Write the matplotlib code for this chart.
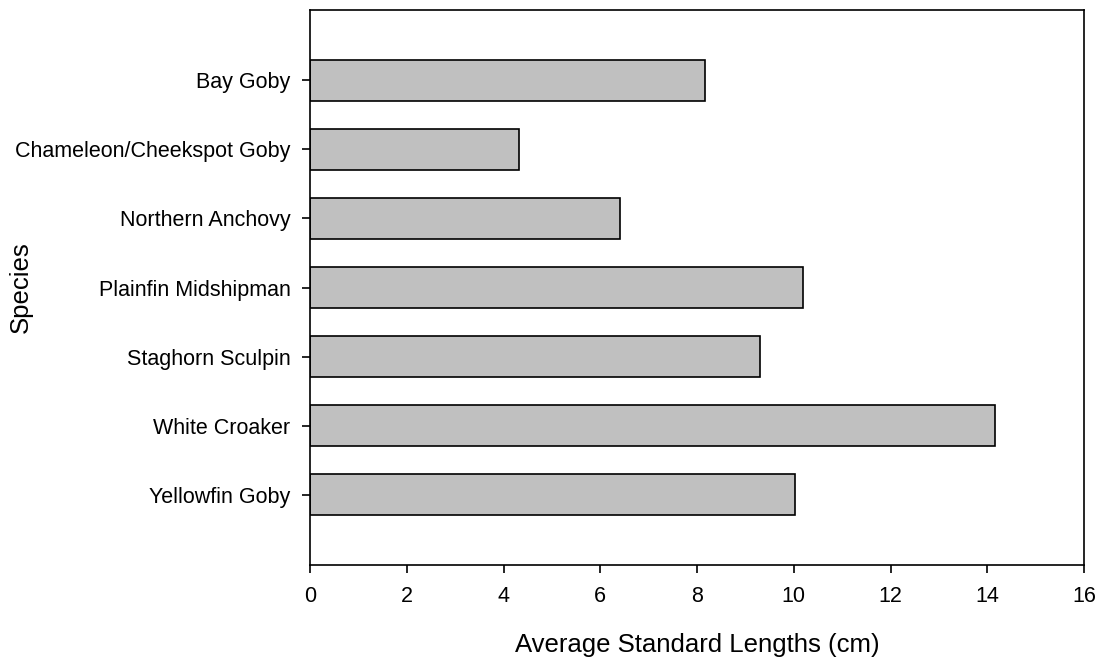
import numpy as np
import matplotlib.pyplot as plt

plt.rcParams['font.family'] = ['Liberation Sans', 'DejaVu Sans']

species = ['Bay Goby', 'Chameleon/Cheekspot Goby', 'Northern Anchovy',
           'Plainfin Midshipman', 'Staghorn Sculpin', 'White Croaker',
           'Yellowfin Goby']
avg_length = [8.17, 4.33, 6.40, 10.19, 9.31, 14.16, 10.03]

fig = plt.figure(figsize=(11.02, 6.61), dpi=100)
ax = fig.add_axes([0.2813, 0.1452, 0.7024, 0.8397])

ind = np.arange(len(species))
ax.barh(ind, avg_length, height=0.6, color='#c0c0c0',
        edgecolor='black', linewidth=1.2)

ax.set_yticks(ind)
ax.set_yticklabels(species, fontsize=15.5)
ax.set_ylim(len(species) - 1 + 1.02, -1.02)
ax.set_xlim(0, 16)
ax.set_xticks(np.arange(0, 17, 2))
ax.tick_params(axis='x', labelsize=15.5, length=6, width=1.2, pad=9)
ax.tick_params(axis='y', length=6, width=1.2, pad=8)
for s in ax.spines.values():
    s.set_linewidth(1.2)

ax.set_xlabel('Average Standard Lengths (cm)', fontsize=18.5, labelpad=19)
ax.set_ylabel('Species', fontsize=18.5)
ax.yaxis.set_label_coords(-0.358, 0.5)

fig.savefig('out.png', dpi=100)
